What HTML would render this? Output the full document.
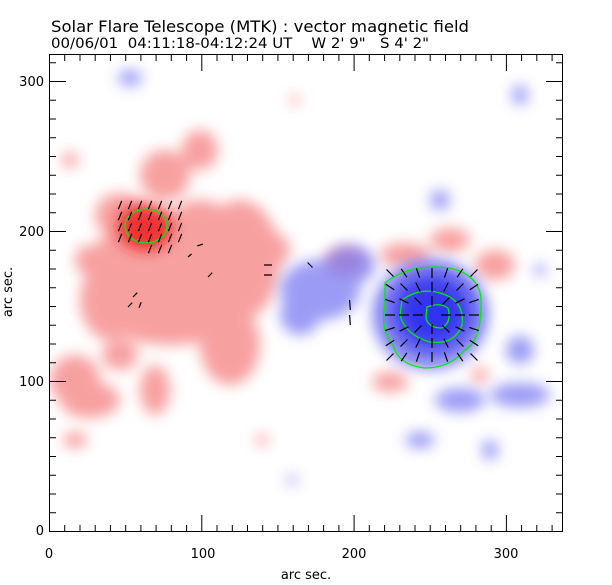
<!DOCTYPE html>
<html><head><style>
html,body{margin:0;padding:0;background:#fff;}
svg{display:block;font-family:"DejaVu Sans","Liberation Sans",sans-serif;}
</style></head><body>
<svg width="612" height="585" viewBox="0 0 612 585" xmlns="http://www.w3.org/2000/svg">
<defs>
<filter id="b" x="-50%" y="-50%" width="200%" height="200%"><feGaussianBlur stdDeviation="7"/></filter>
<filter id="b2" x="-50%" y="-50%" width="200%" height="200%"><feGaussianBlur stdDeviation="12"/></filter>
<clipPath id="c"><rect x="49.5" y="54.5" width="513" height="477"/></clipPath>
</defs>
<rect width="612" height="585" fill="#fff"/>
<g clip-path="url(#c)">
<g filter="url(#b)" fill="#f47878" opacity="0.7">
<ellipse cx="150" cy="270" rx="60" ry="55"/>
<ellipse cx="240" cy="260" rx="40" ry="60"/>
<ellipse cx="200" cy="240" rx="40" ry="40"/>
<ellipse cx="170" cy="310" rx="70" ry="35"/>
<ellipse cx="120" cy="215" rx="25" ry="22"/>
<ellipse cx="165" cy="175" rx="25" ry="25"/>
<ellipse cx="200" cy="150" rx="18" ry="20"/>
<ellipse cx="230" cy="345" rx="30" ry="40"/>
<ellipse cx="265" cy="250" rx="25" ry="20"/>
<ellipse cx="110" cy="300" rx="30" ry="40"/>
<ellipse cx="90" cy="260" rx="15" ry="15"/>
<ellipse cx="75" cy="380" rx="25" ry="25"/>
<ellipse cx="120" cy="355" rx="18" ry="15"/>
<ellipse cx="90" cy="400" rx="30" ry="18"/>
<ellipse cx="155" cy="390" rx="15" ry="25"/>
<ellipse cx="70" cy="160" rx="8" ry="8"/>
<ellipse cx="75" cy="440" rx="12" ry="8"/>
<ellipse cx="345" cy="262" rx="20" ry="14"/>
<ellipse cx="405" cy="255" rx="25" ry="12"/>
<ellipse cx="450" cy="240" rx="20" ry="12"/>
<ellipse cx="495" cy="265" rx="20" ry="15"/>
<ellipse cx="390" cy="382" rx="18" ry="10"/>
<ellipse cx="480" cy="375" rx="8" ry="8"/>
<ellipse cx="262" cy="440" rx="6" ry="6"/>
<ellipse cx="295" cy="100" rx="5" ry="5"/>
</g>
<g filter="url(#b)"><ellipse cx="145" cy="227" rx="28" ry="24" fill="#f02020" opacity="0.85"/></g>
<g filter="url(#b)" fill="#7a7af2" opacity="0.75">
<ellipse cx="320" cy="290" rx="40" ry="30"/>
<ellipse cx="350" cy="265" rx="25" ry="20"/>
<ellipse cx="300" cy="315" rx="20" ry="20"/>
<ellipse cx="430" cy="315" rx="58" ry="55"/>
<ellipse cx="520" cy="350" rx="14" ry="14"/>
<ellipse cx="520" cy="395" rx="30" ry="12"/>
<ellipse cx="460" cy="400" rx="25" ry="12"/>
<ellipse cx="440" cy="200" rx="10" ry="10"/>
<ellipse cx="540" cy="270" rx="6" ry="6"/>
<ellipse cx="420" cy="440" rx="15" ry="8"/>
<ellipse cx="490" cy="450" rx="8" ry="10"/>
<ellipse cx="130" cy="78" rx="12" ry="8"/>
<ellipse cx="520" cy="95" rx="8" ry="10"/>
<ellipse cx="292" cy="480" rx="5" ry="5"/>
</g>
<g filter="url(#b2)"><ellipse cx="432" cy="312" rx="42" ry="40" fill="#2020f0" opacity="0.85"/></g>
</g>
<g fill="none" stroke="#00ee00" stroke-width="1.3">
<ellipse cx="146" cy="226" rx="21" ry="17"/>
<path d="M385,283 Q410,263 450,268 Q480,275 481,300 Q482,340 465,350 Q450,368 425,368 Q398,365 393,345 Q380,330 385,305 Z"/>
<path d="M402,300 Q420,287 440,293 Q465,300 462,325 Q455,345 430,342 Q405,335 400,315 Z"/>
<path d="M427,307 Q440,302 448,308 Q452,322 442,328 Q428,328 426,318 Z"/>
</g>
<path stroke="#000" stroke-width="1.2" fill="none" d="
M393.5,276.5l-7,-7M406.8,277.2l-5.6,-8.4M419.6,277.7l-3.2,-9.4M432,278l0,-10M444.4,277.7l3.2,-9.4M457.2,277.2l5.6,-8.4M470.5,276.5l7,-7
M394.2,289.8l-8.4,-5.6M407.5,290.5l-7,-7M420.2,291.5l-4.4,-9M432,292l0,-10M443.8,291.5l4.4,-9M456.5,290.5l7,-7M469.8,289.8l8.4,-5.6
M394.7,302.6l-9.4,-3.2M408.5,303.2l-9,-4.4M421.5,304.5l-7,-7M432,306l0,-10M442.5,304.5l7,-7M455.5,303.2l9,-4.4M469.3,302.6l9.4,-3.2
M395,315l-10,0M409,315l-10,0M423,315l-10,0M441,315l10,0M455,315l10,0M469,315l10,0
M394.7,327.4l-9.4,3.2M408.5,326.8l-9,4.4M421.5,325.5l-7,7M432,324l0,10M442.5,325.5l7,7M455.5,326.8l9,4.4M469.3,327.4l9.4,3.2
M394.2,340.2l-8.4,5.6M407.5,339.5l-7,7M420.2,338.5l-4.4,9M432,338l0,10M443.8,338.5l4.4,9M456.5,339.5l7,7M469.8,340.2l8.4,5.6
M393.5,353.5l-7,7M406.8,352.8l-5.6,8.4M419.6,352.3l-3.2,9.4M432,352l0,10M444.4,352.3l3.2,9.4M457.2,352.8l5.6,8.4M470.5,353.5l7,7
M118.4,209.2l3.3,-8.4M128.4,209.2l3.3,-8.4M138.4,209.2l3.3,-8.4M148.4,209.2l3.3,-8.4M158.4,209.2l3.3,-8.4M168.4,209.2l3.3,-8.4M178.4,209.2l3.3,-8.4
M118.4,220.2l3.3,-8.4M128.4,220.2l3.3,-8.4M138.4,220.2l3.3,-8.4M148.4,220.2l3.3,-8.4M158.4,220.2l3.3,-8.4M168.4,220.2l3.3,-8.4M178.4,220.2l3.3,-8.4
M118.4,231.2l3.3,-8.4M128.4,231.2l3.3,-8.4M138.4,231.2l3.3,-8.4M148.4,231.2l3.3,-8.4M158.4,231.2l3.3,-8.4M168.4,231.2l3.3,-8.4M178.4,231.2l3.3,-8.4
M118.4,242.2l3.3,-8.4M128.4,242.2l3.3,-8.4M138.4,242.2l3.3,-8.4M148.4,242.2l3.3,-8.4M158.4,242.2l3.3,-8.4M168.4,242.2l3.3,-8.4M178.4,242.2l3.3,-8.4
M148.4,253.2l3.3,-8.4M158.4,253.2l3.3,-8.4M168.4,253.2l3.3,-8.4
M307.6,262.5l4.9,5M349.6,300l0.7,10M349.6,315l0.7,10M264,265l8,0M264,275l8,0M208,277l4.2,-4.3M188,257l3.5,-3M197.2,245.9l5.7,-1.8
M133,297l4.2,-4.3M128,307l4.2,-4.3M139,307.8l2.2,-5.6"/>
<g stroke="#000" stroke-width="1" fill="none">
<rect x="49.5" y="54.5" width="513" height="477"/>
<path d="
M49.5,531v-16M64.7,531v-6M80,531v-6M95.2,531v-6M110.4,531v-6M125.7,531v-6M140.9,531v-6M156.1,531v-6M171.3,531v-6M186.6,531v-6M201.8,531v-16M217,531v-6M232.3,531v-6M247.5,531v-6M262.7,531v-6M277.9,531v-6M293.2,531v-6M308.4,531v-6M323.6,531v-6M338.9,531v-6M354.1,531v-16M369.3,531v-6M384.6,531v-6M399.8,531v-6M415,531v-6M430.2,531v-6M445.5,531v-6M460.7,531v-6M475.9,531v-6M491.2,531v-6M506.4,531v-16M521.6,531v-6M536.8,531v-6M552.1,531v-6
M49.5,55v16M64.7,55v6M80,55v6M95.2,55v6M110.4,55v6M125.7,55v6M140.9,55v6M156.1,55v6M171.3,55v6M186.6,55v6M201.8,55v16M217,55v6M232.3,55v6M247.5,55v6M262.7,55v6M277.9,55v6M293.2,55v6M308.4,55v6M323.6,55v6M338.9,55v6M354.1,55v16M369.3,55v6M384.6,55v6M399.8,55v6M415,55v6M430.2,55v6M445.5,55v6M460.7,55v6M475.9,55v6M491.2,55v6M506.4,55v16M521.6,55v6M536.8,55v6M552.1,55v6
M50,531.5h16M50,512.75h6M50,494h6M50,475.25h6M50,456.5h6M50,437.75h6M50,419h6M50,400.25h6M50,381.5h16M50,362.75h6M50,344h6M50,325.25h6M50,306.5h6M50,287.75h6M50,269h6M50,250.25h6M50,231.5h16M50,212.75h6M50,194h6M50,175.25h6M50,156.5h6M50,137.75h6M50,119h6M50,100.25h6M50,81.5h16M50,62.75h6
M562,531.5h-16M562,512.75h-6M562,494h-6M562,475.25h-6M562,456.5h-6M562,437.75h-6M562,419h-6M562,400.25h-6M562,381.5h-16M562,362.75h-6M562,344h-6M562,325.25h-6M562,306.5h-6M562,287.75h-6M562,269h-6M562,250.25h-6M562,231.5h-16M562,212.75h-6M562,194h-6M562,175.25h-6M562,156.5h-6M562,137.75h-6M562,119h-6M562,100.25h-6M562,81.5h-16M562,62.75h-6"/>
</g>
<g font-size="13" fill="#000">
<text x="51" y="32" font-size="16" textLength="418" lengthAdjust="spacingAndGlyphs">Solar Flare Telescope (MTK) : vector magnetic field</text>
<text x="51" y="48" font-size="14" xml:space="preserve" textLength="378" lengthAdjust="spacingAndGlyphs">00/06/01  04:11:18-04:12:24 UT    W 2' 9"   S 4' 2"</text>
<text x="49" y="558" text-anchor="middle">0</text>
<text x="203" y="558" text-anchor="middle">100</text>
<text x="354" y="558" text-anchor="middle">200</text>
<text x="506" y="558" text-anchor="middle">300</text>
<text x="44" y="535" text-anchor="end">0</text>
<text x="44" y="386" text-anchor="end">100</text>
<text x="44" y="236" text-anchor="end">200</text>
<text x="44" y="86" text-anchor="end">300</text>
<text x="306" y="579" text-anchor="middle" font-size="13">arc sec.</text>
<text transform="translate(12,292) rotate(-90)" text-anchor="middle" font-size="13">arc sec.</text>
</g>
</svg>
</body></html>
